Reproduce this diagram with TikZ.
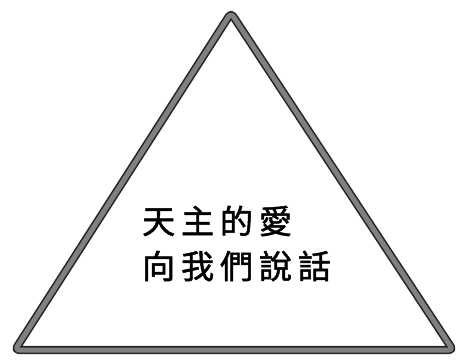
\documentclass[tikz,border=0pt]{standalone}
\usepackage{fontspec}
\newfontfamily\cjk[FakeBold=1.5]{Noto Sans CJK TC}
\tikzset{
  tri/.style={draw=black!85, line width=1.6bp, double=black!50, double distance=5bp, line join=round, rounded corners=4bp},
  label/.style={font=\cjk\fontsize{33bp}{33bp}\selectfont\addfontfeature{LetterSpace=18}, anchor=west, inner sep=0pt}
}
\begin{document}
\begin{tikzpicture}[x=1bp,y=-1bp]
\useasboundingbox (0,0) rectangle (459,362);
\coordinate (apex) at (231,13);
\coordinate (bl) at (15,350);
\coordinate (br) at (453,350);
\draw[tri] (apex) -- (br) -- (bl) -- cycle;
\node[label] (l1) at (142,221) {天主的愛};
\node[label] (l2) at (142,266) {向我們說話};
\end{tikzpicture}
\end{document}
